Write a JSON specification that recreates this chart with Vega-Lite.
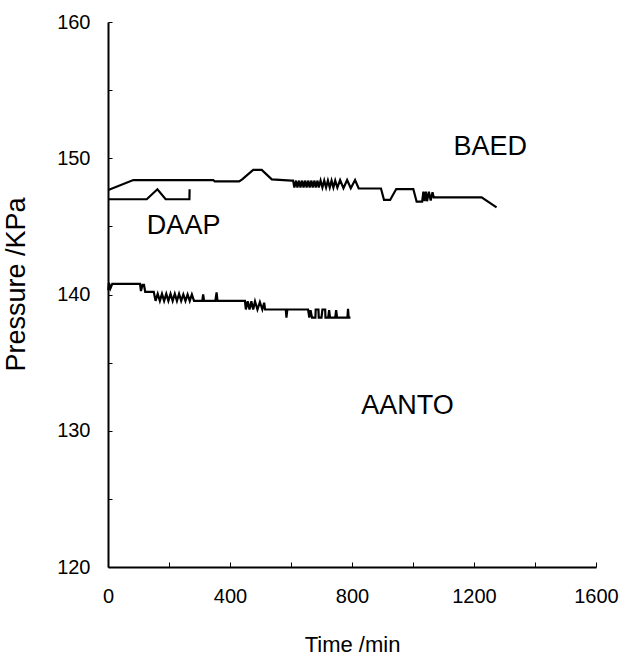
{
  "$schema": "https://vega.github.io/schema/vega-lite/v6.json",
  "width": 488,
  "height": 545,
  "autosize": "none",
  "padding": {"left": 108, "top": 22, "right": 30, "bottom": 92},
  "background": "white",
  "config": {"view": {"stroke": null}, "font": "Liberation Sans"},
  "datasets": {
    "lines": [
      {"s": "BAED", "i": 1, "t": 1, "p": 147.67},
      {"s": "BAED", "i": 2, "t": 83, "p": 148.4},
      {"s": "BAED", "i": 3, "t": 345, "p": 148.4},
      {"s": "BAED", "i": 4, "t": 350, "p": 148.3},
      {"s": "BAED", "i": 5, "t": 430, "p": 148.3},
      {"s": "BAED", "i": 6, "t": 440, "p": 148.45},
      {"s": "BAED", "i": 7, "t": 476, "p": 149.14},
      {"s": "BAED", "i": 8, "t": 504, "p": 149.14},
      {"s": "BAED", "i": 9, "t": 537, "p": 148.45},
      {"s": "BAED", "i": 10, "t": 602, "p": 148.36},
      {"s": "BAED", "i": 11, "t": 607, "p": 148.36},
      {"s": "BAED", "i": 12, "t": 611, "p": 147.85},
      {"s": "BAED", "i": 13, "t": 617, "p": 148.36},
      {"s": "BAED", "i": 14, "t": 621, "p": 147.85},
      {"s": "BAED", "i": 15, "t": 627, "p": 148.36},
      {"s": "BAED", "i": 16, "t": 631, "p": 147.85},
      {"s": "BAED", "i": 17, "t": 637, "p": 148.36},
      {"s": "BAED", "i": 18, "t": 641, "p": 147.85},
      {"s": "BAED", "i": 19, "t": 647, "p": 148.36},
      {"s": "BAED", "i": 20, "t": 651, "p": 147.85},
      {"s": "BAED", "i": 21, "t": 657, "p": 148.36},
      {"s": "BAED", "i": 22, "t": 661, "p": 147.85},
      {"s": "BAED", "i": 23, "t": 667, "p": 148.36},
      {"s": "BAED", "i": 24, "t": 671, "p": 147.85},
      {"s": "BAED", "i": 25, "t": 677, "p": 148.36},
      {"s": "BAED", "i": 26, "t": 681, "p": 147.85},
      {"s": "BAED", "i": 27, "t": 687, "p": 148.36},
      {"s": "BAED", "i": 28, "t": 691, "p": 147.85},
      {"s": "BAED", "i": 29, "t": 697, "p": 148.36},
      {"s": "BAED", "i": 30, "t": 703, "p": 147.85},
      {"s": "BAED", "i": 31, "t": 709, "p": 148.36},
      {"s": "BAED", "i": 32, "t": 715, "p": 147.85},
      {"s": "BAED", "i": 33, "t": 721, "p": 148.36},
      {"s": "BAED", "i": 34, "t": 727, "p": 147.85},
      {"s": "BAED", "i": 35, "t": 733, "p": 148.36},
      {"s": "BAED", "i": 36, "t": 739, "p": 147.85},
      {"s": "BAED", "i": 37, "t": 745, "p": 148.36},
      {"s": "BAED", "i": 38, "t": 752, "p": 147.85},
      {"s": "BAED", "i": 39, "t": 761, "p": 148.4},
      {"s": "BAED", "i": 40, "t": 772, "p": 147.8},
      {"s": "BAED", "i": 41, "t": 784, "p": 148.4},
      {"s": "BAED", "i": 42, "t": 796, "p": 147.8},
      {"s": "BAED", "i": 43, "t": 810, "p": 148.4},
      {"s": "BAED", "i": 44, "t": 822, "p": 147.78},
      {"s": "BAED", "i": 45, "t": 895, "p": 147.78},
      {"s": "BAED", "i": 46, "t": 905, "p": 146.94},
      {"s": "BAED", "i": 47, "t": 925, "p": 146.94},
      {"s": "BAED", "i": 48, "t": 945, "p": 147.74},
      {"s": "BAED", "i": 49, "t": 1001, "p": 147.74},
      {"s": "BAED", "i": 50, "t": 1012, "p": 146.81},
      {"s": "BAED", "i": 51, "t": 1030, "p": 146.81},
      {"s": "BAED", "i": 52, "t": 1034, "p": 147.55},
      {"s": "BAED", "i": 53, "t": 1038, "p": 146.85},
      {"s": "BAED", "i": 54, "t": 1042, "p": 147.55},
      {"s": "BAED", "i": 55, "t": 1046, "p": 146.85},
      {"s": "BAED", "i": 56, "t": 1052, "p": 147.55},
      {"s": "BAED", "i": 57, "t": 1058, "p": 146.9},
      {"s": "BAED", "i": 58, "t": 1064, "p": 147.5},
      {"s": "BAED", "i": 59, "t": 1068, "p": 147.13},
      {"s": "BAED", "i": 60, "t": 1225, "p": 147.13},
      {"s": "BAED", "i": 61, "t": 1274, "p": 146.4},
      {"s": "DAAP", "i": 1, "t": 1, "p": 146.99},
      {"s": "DAAP", "i": 2, "t": 127, "p": 146.99},
      {"s": "DAAP", "i": 3, "t": 162, "p": 147.72},
      {"s": "DAAP", "i": 4, "t": 189, "p": 146.99},
      {"s": "DAAP", "i": 5, "t": 267, "p": 146.99},
      {"s": "DAAP", "i": 6, "t": 267.5, "p": 147.72},
      {"s": "AANTO", "i": 1, "t": 1, "p": 140.3},
      {"s": "AANTO", "i": 2, "t": 3, "p": 140.85},
      {"s": "AANTO", "i": 3, "t": 8, "p": 140.45},
      {"s": "AANTO", "i": 4, "t": 14, "p": 140.78},
      {"s": "AANTO", "i": 5, "t": 105, "p": 140.78},
      {"s": "AANTO", "i": 6, "t": 108, "p": 140.25},
      {"s": "AANTO", "i": 7, "t": 113, "p": 140.7},
      {"s": "AANTO", "i": 8, "t": 118, "p": 140.7},
      {"s": "AANTO", "i": 9, "t": 122, "p": 140.2},
      {"s": "AANTO", "i": 10, "t": 150, "p": 140.2},
      {"s": "AANTO", "i": 11, "t": 156, "p": 139.53},
      {"s": "AANTO", "i": 12, "t": 163, "p": 140.05},
      {"s": "AANTO", "i": 13, "t": 170, "p": 139.53},
      {"s": "AANTO", "i": 14, "t": 177, "p": 140.05},
      {"s": "AANTO", "i": 15, "t": 184, "p": 139.53},
      {"s": "AANTO", "i": 16, "t": 191, "p": 140.05},
      {"s": "AANTO", "i": 17, "t": 198, "p": 139.53},
      {"s": "AANTO", "i": 18, "t": 205, "p": 140.05},
      {"s": "AANTO", "i": 19, "t": 212, "p": 139.53},
      {"s": "AANTO", "i": 20, "t": 219, "p": 140.05},
      {"s": "AANTO", "i": 21, "t": 226, "p": 139.53},
      {"s": "AANTO", "i": 22, "t": 233, "p": 140.05},
      {"s": "AANTO", "i": 23, "t": 240, "p": 139.53},
      {"s": "AANTO", "i": 24, "t": 247, "p": 140.0},
      {"s": "AANTO", "i": 25, "t": 254, "p": 139.53},
      {"s": "AANTO", "i": 26, "t": 261, "p": 140.0},
      {"s": "AANTO", "i": 27, "t": 268, "p": 139.53},
      {"s": "AANTO", "i": 28, "t": 275, "p": 140.0},
      {"s": "AANTO", "i": 29, "t": 282, "p": 139.53},
      {"s": "AANTO", "i": 30, "t": 309, "p": 139.53},
      {"s": "AANTO", "i": 31, "t": 312, "p": 140.0},
      {"s": "AANTO", "i": 32, "t": 315, "p": 139.53},
      {"s": "AANTO", "i": 33, "t": 352, "p": 139.53},
      {"s": "AANTO", "i": 34, "t": 356, "p": 140.15},
      {"s": "AANTO", "i": 35, "t": 359, "p": 139.53},
      {"s": "AANTO", "i": 36, "t": 449, "p": 139.53},
      {"s": "AANTO", "i": 37, "t": 452, "p": 138.9},
      {"s": "AANTO", "i": 38, "t": 458, "p": 139.5},
      {"s": "AANTO", "i": 39, "t": 464, "p": 138.9},
      {"s": "AANTO", "i": 40, "t": 470, "p": 139.5},
      {"s": "AANTO", "i": 41, "t": 476, "p": 138.9},
      {"s": "AANTO", "i": 42, "t": 482, "p": 139.5},
      {"s": "AANTO", "i": 43, "t": 490, "p": 138.9},
      {"s": "AANTO", "i": 44, "t": 498, "p": 139.45},
      {"s": "AANTO", "i": 45, "t": 506, "p": 138.9},
      {"s": "AANTO", "i": 46, "t": 512, "p": 139.4},
      {"s": "AANTO", "i": 47, "t": 515, "p": 138.9},
      {"s": "AANTO", "i": 48, "t": 583, "p": 138.9},
      {"s": "AANTO", "i": 49, "t": 585, "p": 138.3},
      {"s": "AANTO", "i": 50, "t": 588, "p": 138.9},
      {"s": "AANTO", "i": 51, "t": 656, "p": 138.9},
      {"s": "AANTO", "i": 52, "t": 660, "p": 138.3},
      {"s": "AANTO", "i": 53, "t": 664, "p": 138.85},
      {"s": "AANTO", "i": 54, "t": 669, "p": 138.3},
      {"s": "AANTO", "i": 55, "t": 680, "p": 138.3},
      {"s": "AANTO", "i": 56, "t": 681, "p": 138.9},
      {"s": "AANTO", "i": 57, "t": 690, "p": 138.9},
      {"s": "AANTO", "i": 58, "t": 691, "p": 138.3},
      {"s": "AANTO", "i": 59, "t": 700, "p": 138.3},
      {"s": "AANTO", "i": 60, "t": 703, "p": 138.9},
      {"s": "AANTO", "i": 61, "t": 712, "p": 138.9},
      {"s": "AANTO", "i": 62, "t": 713, "p": 138.3},
      {"s": "AANTO", "i": 63, "t": 722, "p": 138.3},
      {"s": "AANTO", "i": 64, "t": 725, "p": 138.85},
      {"s": "AANTO", "i": 65, "t": 728, "p": 138.3},
      {"s": "AANTO", "i": 66, "t": 745, "p": 138.3},
      {"s": "AANTO", "i": 67, "t": 748, "p": 138.85},
      {"s": "AANTO", "i": 68, "t": 751, "p": 138.3},
      {"s": "AANTO", "i": 69, "t": 785, "p": 138.3},
      {"s": "AANTO", "i": 70, "t": 787, "p": 138.95},
      {"s": "AANTO", "i": 71, "t": 789, "p": 138.3},
      {"s": "AANTO", "i": 72, "t": 795, "p": 138.3}
    ],
    "labels": [
      {"label": "BAED", "t": 1253, "p": 150.79},
      {"label": "DAAP", "t": 248, "p": 145.03},
      {"label": "AANTO", "t": 982, "p": 131.78}
    ]
  },
  "layer": [
    {
      "data": {"name": "lines"},
      "mark": {"type": "line", "color": "black", "strokeWidth": 2.2},
      "encoding": {
        "x": {
          "field": "t",
          "type": "quantitative",
          "scale": {"domain": [0, 1600], "nice": false, "zero": false},
          "axis": {
            "title": "Time /min",
            "values": [0, 200, 400, 600, 800, 1000, 1200, 1400, 1600],
            "format": "d",
            "labelExpr": "datum.value % 400 === 0 ? datum.label : ''",
            "labelOverlap": false,
            "labelFlush": false,
            "grid": false,
            "tickSize": -5,
            "tickColor": "black",
            "tickWidth": 1,
            "domainColor": "black",
            "domainWidth": 2,
            "labelPadding": 24,
            "labelFontSize": 20,
            "labelFont": "Liberation Sans",
            "labelColor": "black",
            "titleFont": "Liberation Sans",
            "titleFontSize": 22,
            "titleFontWeight": "normal",
            "titleColor": "black",
            "titleX": 244,
            "titleY": 84,
            "titleAlign": "center",
            "titleBaseline": "alphabetic"
          }
        },
        "y": {
          "field": "p",
          "type": "quantitative",
          "scale": {"domain": [120, 160], "nice": false, "zero": false},
          "axis": {
            "title": "Pressure /KPa",
            "values": [120, 122.5, 125, 127.5, 130, 132.5, 135, 137.5, 140, 142.5, 145, 147.5, 150, 152.5, 155, 157.5, 160],
            "labelExpr": "datum.value % 10 === 0 ? datum.label : ''",
            "labelOverlap": false,
            "grid": false,
            "tickSize": -4,
            "tickColor": "black",
            "tickWidth": 1,
            "domainColor": "black",
            "domainWidth": 2,
            "labelPadding": 22,
            "labelFontSize": 20,
            "labelFont": "Liberation Sans",
            "labelColor": "black",
            "titleFont": "Liberation Sans",
            "titleFontSize": 27,
            "titleFontWeight": "normal",
            "titleColor": "black",
            "titleAngle": -90,
            "titleX": -84,
            "titleY": 262,
            "titleAlign": "center",
            "titleBaseline": "alphabetic"
          }
        },
        "detail": {"field": "s"},
        "order": {"field": "i", "type": "quantitative"}
      }
    },
    {
      "data": {"name": "labels"},
      "mark": {"type": "text", "fontSize": 27, "font": "Liberation Sans", "color": "black", "baseline": "middle", "align": "center"},
      "encoding": {
        "x": {"field": "t", "type": "quantitative"},
        "y": {"field": "p", "type": "quantitative"},
        "text": {"field": "label"}
      }
    }
  ]
}
